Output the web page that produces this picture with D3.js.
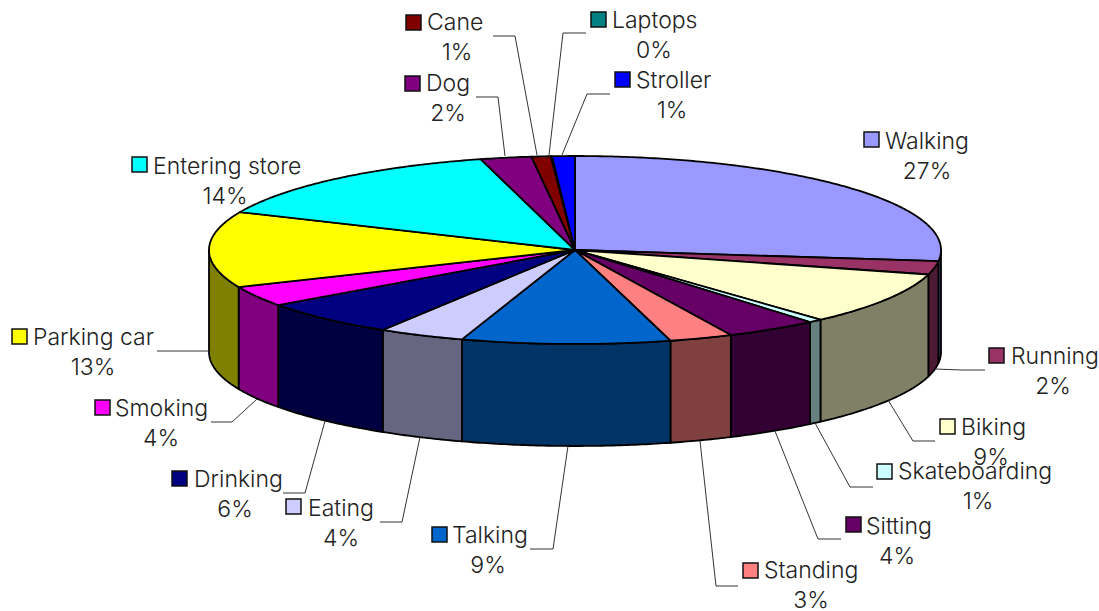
<!DOCTYPE html>
<html>
<head>
<meta charset="utf-8">
<style>
	body{ margin: 0; background: #fff; }
	text{ font-family: "Inter", sans-serif; font-size: 23px; font-weight: 300; fill: #222; }
	.leader{ fill: none; stroke: #333; stroke-width: 1px; }
	.key{ stroke: #111; stroke-width: 1.5px; }
	.edge{ stroke: #000; stroke-width: 1.8px; stroke-linejoin: round; }
</style>
</head>
<body>
<script src="https://d3js.org/d3.v7.min.js"></script>
<script>

	// data, clockwise from 12 o'clock
	var categories = ["Walking","Running","Biking","Skateboarding","Sitting","Standing","Talking","Eating",
		"Drinking","Smoking","Parking car","Entering store","Dog","Cane","Laptops","Stroller"];
	var shares = [26.9,2.3,9.1,0.6,4.1,2.8,9.2,3.8,6.25,3.5,13.05,14.25,2.25,0.85,0.05,1.0];
	var colors = ["#9999FF","#993366","#FFFFCC","#CCFFFF","#660066","#FF8080","#0066CC","#CCCCFF",
		"#000080","#FF00FF","#FFFF00","#00FFFF","#800080","#800000","#008080","#0000FF"];

	// label placement: key left, key top, name x, name baseline, percent centre x
	var labelPos = [
		[864,132,885,149,927],[989,348,1011,364,1053],[940,419,961,435,991],[877,464,898,479,978],
		[846,517,866,534,897],[743,563,764,578,811],[432,527,452,543,488],[286,499,308,516,341],
		[172,471,194,487,235],[95,400,115,416,161],[12,329,33,345,93],[132,157,153,174,225],
		[405,76,426,91,448],[406,15,427,30,457],[591,12,612,28,654],[615,72,636,88,672]
	];
	// leader polylines, null where the chart has none
	var leaders = [
		null,[[985,370],[962,370],[935,369]],[[935,441],[913,441],[888,400]],[[873,487],[850,487],[815,423]],
		[[841,539],[818,539],[775,431]],[[738,586],[716,586],[700,441]],[[530,549],[553,549],[568,446]],
		[[380,522],[402,522],[420,437]],[[283,493],[305,493],[325,421]],[[211,422],[232,422],[257,399]],
		[[157,351],[180,351],[209,351]],null,[[476,97],[498,97],[505,156]],[[493,36],[515,36],[537,155]],
		[[586,33],[563,33],[549,155]],[[610,94],[587,94],[562,155]]
	];

	var width = 1099, height = 611,
		cx = 575, cy = 250, rx = 366, ry = 94, depth = 102, keySize = 15;

	// unit circle -> squashed ellipse
	var x = d3.scaleLinear().domain([-1,1]).range([cx - rx, cx + rx]);
	var y = d3.scaleLinear().domain([-1,1]).range([cy + ry, cy - ry]);

	var svg = d3.select("body").append("svg")
				.attr("width", width)
				.attr("height", height)
				.style("display", "block");

	var pie = d3.pie().sort(null).value(function(d) { return d; });
	var slices = pie(shares);

	function rim(a) { return [x(Math.sin(a)), y(Math.cos(a))]; }

	function ringPoints(a0, a1) {
		var n = Math.max(2, Math.ceil((a1 - a0) / 0.01));
		return d3.range(n + 1).map(function(i) { return rim(a0 + (a1 - a0) * i / n); });
	}

	function shade(c) {
		var k = d3.rgb(c);
		return d3.rgb(k.r / 2, k.g / 2, k.b / 2);
	}

	var line = d3.line();

	// side walls, only the front half of the rim shows
	var front = slices.map(function(s, i) {
		return {
			i: i,
			a0: Math.max(s.startAngle, Math.PI / 2),
			a1: Math.min(s.endAngle, Math.PI * 3 / 2)
		};
	}).filter(function(s) { return s.a1 > s.a0; });

	svg.append("g").selectAll("path")
		.data(front)
		.enter().append("path")
		.attr("class", "edge")
		.attr("fill", function(d) { return shade(colors[d.i]); })
		.attr("d", function(d) {
			var top = ringPoints(d.a0, d.a1);
			var bottom = top.map(function(p) { return [p[0], p[1] + depth]; }).reverse();
			return line(top.concat(bottom)) + "Z";
		});

	// top face
	svg.append("g").selectAll("path")
		.data(slices)
		.enter().append("path")
		.attr("class", "edge")
		.attr("fill", function(d, i) { return colors[i]; })
		.attr("d", function(d) {
			return line([[cx, cy]].concat(ringPoints(d.startAngle, d.endAngle))) + "Z";
		});

	// leaders
	svg.append("g").selectAll("path")
		.data(leaders.filter(function(d) { return d; }))
		.enter().append("path")
		.attr("class", "leader")
		.attr("d", line);

	// labels
	var labels = svg.append("g").selectAll("g")
		.data(categories)
		.enter().append("g");

	labels.append("rect")
		.attr("class", "key")
		.attr("x", function(d, i) { return labelPos[i][0]; })
		.attr("y", function(d, i) { return labelPos[i][1]; })
		.attr("width", keySize)
		.attr("height", keySize)
		.attr("fill", function(d, i) { return colors[i]; });

	labels.append("text")
		.attr("x", function(d, i) { return labelPos[i][2]; })
		.attr("y", function(d, i) { return labelPos[i][3]; })
		.text(function(d) { return d; });

	labels.append("text")
		.attr("x", function(d, i) { return labelPos[i][4]; })
		.attr("y", function(d, i) { return labelPos[i][3] + 30; })
		.attr("text-anchor", "middle")
		.text(function(d, i) { return Math.round(shares[i]) + "%"; });

</script>
</body>
</html>
